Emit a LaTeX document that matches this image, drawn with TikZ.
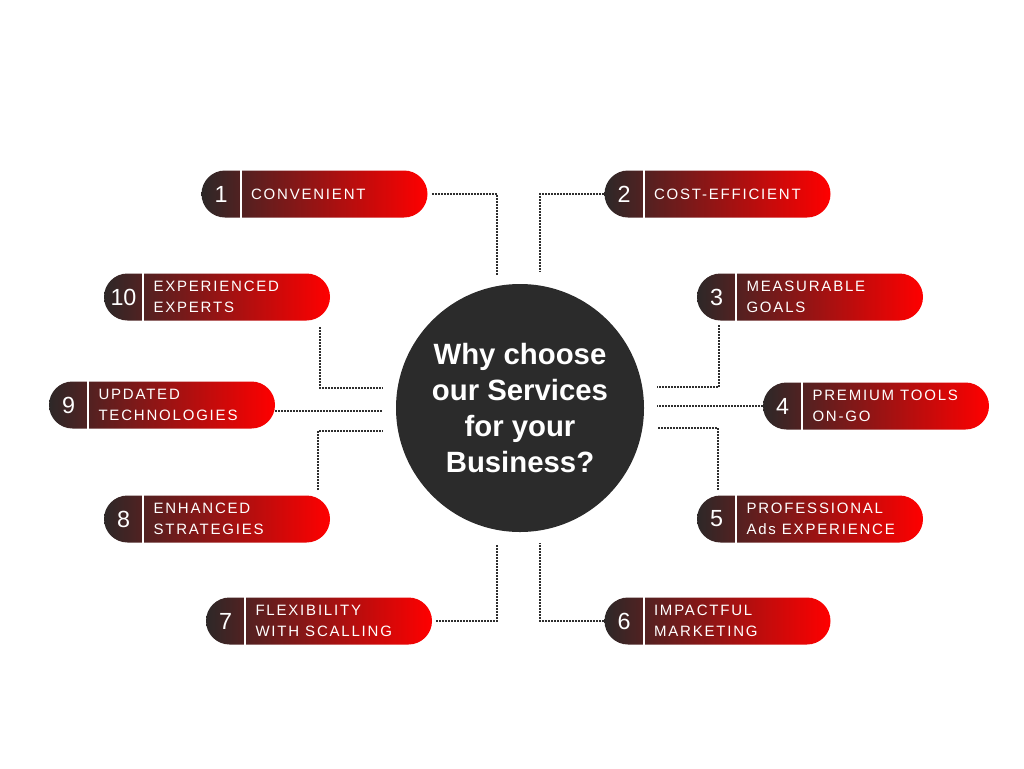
\documentclass[tikz,border=0pt]{standalone}
\usepackage{fontspec}
\setmainfont{Liberation Sans}
\newfontfamily\pillfont[LetterSpace=12]{Liberation Sans}
\usetikzlibrary{positioning,shapes.misc}
\definecolor{hubgray}{HTML}{2B2B2B}
\definecolor{pilldark}{HTML}{2D2828}
\definecolor{pillred}{HTML}{FF0000}
\definecolor{dotgray}{HTML}{2E2E2E}

\begin{document}
\begin{tikzpicture}[x=0.75pt,y=-0.75pt,
    pill/.style={rounded rectangle, minimum width=169.5pt, minimum height=35.25pt, inner sep=0pt, left color=pilldark, right color=pillred},
    num/.style={minimum width=29.25pt, minimum height=35.25pt, inner sep=0pt, text=white, font=\fontsize{17.5}{18}\selectfont},
    lbl/.style={align=left, inner sep=0pt, text=white, font=\pillfont\fontsize{11.25}{15.75}\selectfont},
    divider/.style={white, line width=1.5pt},
    hub/.style={circle, fill=hubgray, minimum size=186pt, inner sep=0pt, align=center, text=white, font=\bfseries\fontsize{22}{27}\selectfont},
    link/.style={dotgray, line width=1.5pt, dash pattern=on 1.4pt off 0.85pt}]
        \useasboundingbox (0,0) rectangle (1024,768);
        \node[hub] (hub) at (520,408) {Why choose\\our Services\\for your\\Business?};
        % the ten pills
        \foreach \n/\xx/\yy/\txt in {1/314.5/194/CONVENIENT, 2/717.5/194/COST-EFFICIENT,
                10/217/297/{EXPERIENCED\\EXPERTS}, 3/810/297/{MEASURABLE\\GOALS},
                9/162/405/{UPDATED\\TECHNOLOGIES}, 4/876/406/{PREMIUM TOOLS\\ON-GO},
                8/217/519/{ENHANCED\\STRATEGIES}, 5/810/519/{PROFESSIONAL\\Ads EXPERIENCE},
                7/319/621/{FLEXIBILITY\\WITH SCALLING}, 6/717.5/621/{IMPACTFUL\\MARKETING}} {
            \node[pill] (p\n) at (\xx,\yy) {};
            \node[num, anchor=west] (n\n) at (p\n.west) {\n};
            \draw[divider] (n\n.north east) -- (n\n.south east);
            \node[lbl, right=7.5pt of n\n.east] (t\n) {\txt};
        }
        % dotted links
        \coordinate (c1) at (497,275);
        \coordinate (c2) at (540,272);
        \coordinate (c10) at (383,388);
        \coordinate (c9) at (383,411);
        \coordinate (c8) at (383,431);
        \coordinate (c3) at (657,387);
        \coordinate (c4) at (657,406);
        \coordinate (c5) at (657,428);
        \coordinate (c7) at (497,545);
        \coordinate (c6) at (540,543);
        \draw[link, shorten <=3pt] (p1.east) -| (c1);
        \draw[link] (p2.west) -| (c2);
        \draw[link] ([shift={(-10,30)}]p10.east) |- (c10);
        \draw[link] (p9.east |- c9) -- (c9);
        \draw[link] ([shift={(-12,-29)}]p8.east) |- (c8);
        \draw[link] ([shift={(22,28)}]p3.west) |- (c3);
        \draw[link] (p4.west) -- (c4);
        \draw[link] ([shift={(21,-29)}]p5.west) |- (c5);
        \draw[link, shorten <=3pt] (p7.east) -| (c7);
        \draw[link] (p6.west) -| (c6);
    \end{tikzpicture}
\end{document}
